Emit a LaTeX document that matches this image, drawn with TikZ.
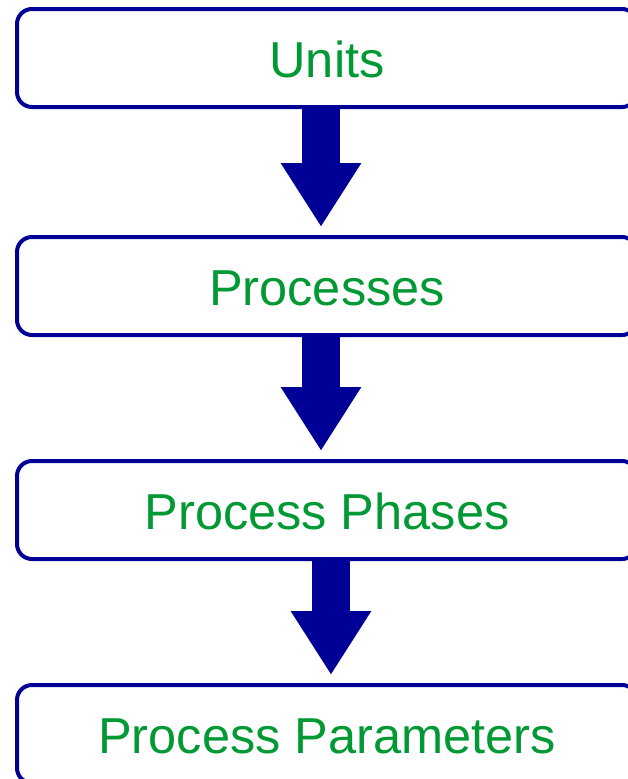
\documentclass[tikz,border=0pt]{standalone}
\usepackage{fontspec}
\setmainfont{Liberation Sans}
\usetikzlibrary{arrows.meta}
\definecolor{boxblue}{RGB}{0,0,150}
\definecolor{txtgreen}{RGB}{0,153,51}
\begin{document}
\begin{tikzpicture}[x=1pt,y=-1pt,
  box/.style={draw=boxblue, line width=4pt, rounded corners=15pt, fill=white,
    minimum width=620pt, minimum height=98pt, inner sep=0pt},
  label/.style={text=txtgreen, font=\fontsize{50.5}{60}\selectfont, anchor=base, inner sep=0pt},
  bigarrow/.style={draw=boxblue, line width=38pt,
    -{Triangle[length=64pt, width=76pt]}}]
\useasboundingbox (0,0) rectangle (628,779);
\clip (0,0) rectangle (628,779);
% boxes
\node[box] (b1) at (327,58) {};
\node[box] (b2) at (327,286) {};
\node[box] (b3) at (327,510) {};
\node[box] (b4) at (327,734) {};
% arrow tips
\coordinate (t1) at (321,227);
\coordinate (t2) at (321,451);
\coordinate (t3) at (331,675);
\draw[bigarrow] (b1.south -| t1) -- (t1);
\draw[bigarrow] (b2.south -| t2) -- (t2);
\draw[bigarrow] (b3.south -| t3) -- (t3);
% labels
\node[label] (l1) at (327,77) {Units};
\node[label] (l2) at (327,305) {Processes};
\node[label] (l3) at (327,529) {Process Phases};
\node[label] (l4) at (327,753) {Process Parameters};
\end{tikzpicture}
\end{document}
